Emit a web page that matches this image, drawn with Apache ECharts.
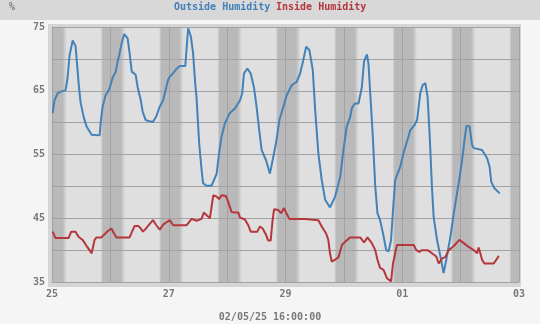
<!DOCTYPE html>
<html><head><meta charset="utf-8">
<script src="https://cdn.jsdelivr.net/npm/echarts@6/dist/echarts.min.js"></script>
<style>html,body{margin:0;padding:0;background:#f5f5f5;}#c{width:540px;height:324px;}</style>
</head><body><div id="c"></div>
<script>
// ---- data (hours since 25 Apr 00:00) ----
const dayLabels = ['25','26','27','28','29','30','01','02','03'];
const yTicks = [35, 45, 55, 65, 75];
const outsideHours = [0.3,1.0,2.3,3.9,5.6,6.4,7.2,8.5,9.7,10.9,
11.7,13.0,14.2,16.3,19.6,20.0,20.8,22.0,22.9,23.7,
24.9,26.2,27.0,27.8,28.6,29.7,30.3,31.1,31.9,32.8,
34.4,35.2,36.5,37.3,38.5,40.2,41.5,42.9,44.3,45.7,
47.7,48.4,49.7,50.9,52.5,54.8,55.3,55.6,56.0,57.1,
58.0,58.9,59.4,60.5,61.5,62.1,63.5,65.6,67.7,68.7,
69.7,71.1,73.1,75.2,77.3,78.2,78.9,80.3,81.7,83.0,
84.1,85.2,86.2,88.0,89.6,90.7,92.1,93.5,95.1,96.5,
98.6,100.6,102.0,103.3,104.5,105.8,107.2,108.2,109.5,110.9,
112.3,114.3,116.4,118.5,119.8,121.2,122.6,123.3,124.5,126.0,
127.4,128.3,129.5,130.1,131.1,131.9,132.9,133.8,134.9,136.1,
137.4,138.4,139.4,140.2,141.1,142.1,143.2,144.5,145.9,147.3,
149.0,150.1,151.4,152.4,153.5,154.4,155.3,156.2,156.9,158.3,
159.7,161.0,162.1,163.8,165.4,167.2,168.6,169.6,170.4,171.7,
172.7,173.4,176.8,178.9,179.9,180.6,181.9,184.1];
const outsideHum = [61.5,63.5,64.6,64.9,65.1,67.0,70.5,72.9,72.0,66.4,
63.3,60.9,59.4,58.1,58.0,59.9,62.5,64.3,64.8,65.4,
67.0,68.0,69.6,70.9,72.4,73.9,73.9,73.2,70.9,68.0,
67.5,65.6,63.5,61.7,60.4,60.2,60.1,61.0,62.5,63.5,
66.7,67.2,67.7,68.3,68.9,68.9,68.7,73.0,74.8,73.5,
70.9,66.0,64.1,56.8,52.6,50.5,50.1,50.1,52.0,55.2,
57.8,59.9,61.5,62.2,63.5,64.6,67.7,68.5,67.7,65.6,
62.5,58.8,55.7,54.1,52.0,54.1,56.8,60.4,62.5,64.3,
65.9,66.4,67.7,69.8,71.9,71.4,68.3,62.0,55.2,51.0,
47.9,46.7,48.4,51.5,55.7,59.4,60.9,62.3,63.0,63.0,
65.6,69.6,70.7,69.3,63.0,57.8,50.0,45.8,44.7,42.6,
40.0,39.8,41.6,46.3,51.0,52.0,53.1,55.2,57.0,58.8,
59.6,60.4,64.6,65.9,66.2,64.1,57.8,50.0,45.2,41.6,
39.0,36.4,38.5,42.1,46.3,50.5,54.1,57.3,59.5,59.4,
56.5,56.0,55.7,54.4,53.1,50.7,49.7,48.9];
const insideHours = [0.3,1.4,6.8,7.9,9.7,10.9,12.6,14.5,16.3,17.5,
18.3,20.3,21.6,23.0,24.4,25.5,26.5,31.9,32.9,34.0,
35.4,36.3,37.4,38.4,39.5,41.5,42.9,44.3,45.7,46.8,
48.4,49.8,55.3,57.4,59.4,61.5,62.4,63.5,64.9,66.3,
67.7,68.7,69.7,71.5,72.4,73.8,74.8,76.6,77.3,79.3,
80.7,81.7,84.4,85.5,86.6,88.0,88.9,89.9,90.7,91.3,
93.0,94.2,95.4,96.2,97.6,102.0,102.7,104.0,109.5,110.9,
112.7,113.6,114.3,115.0,116.4,117.8,119.2,120.5,122.6,126.7,
128.3,129.7,131.5,132.9,133.8,134.9,136.3,137.7,139.4,140.2,
141.8,148.7,149.8,151.0,152.1,154.4,156.2,158.0,159.0,160.4,
161.7,163.1,165.1,167.5,169.3,171.3,173.4,174.8,175.4,176.1,
176.8,177.8,181.6,182.7,183.7];
const insideHum = [42.9,41.9,41.9,42.9,42.9,42.1,41.6,40.5,39.5,41.6,
42.0,42.0,42.5,43.0,43.4,42.6,42.0,42.0,42.9,43.8,
43.8,43.5,42.9,43.3,43.8,44.7,43.9,43.2,44.0,44.3,
44.7,43.9,43.9,44.9,44.6,44.9,45.9,45.5,45.0,48.6,
48.4,48.0,48.6,48.5,47.6,46.0,45.9,45.9,45.1,44.8,
43.9,42.9,42.9,43.7,43.4,42.4,41.5,41.5,44.7,46.4,
46.3,45.8,46.6,45.9,44.9,44.9,44.6,44.9,44.7,43.7,
42.6,41.6,39.5,38.2,38.5,38.9,40.8,41.3,42.0,42.0,
41.2,42.0,41.1,40.0,38.5,37.2,36.9,35.6,35.1,37.9,
40.8,40.8,40.0,39.7,40.0,40.0,39.5,39.0,37.9,38.7,
38.9,40.0,40.6,41.6,41.1,40.5,40.0,39.5,40.4,39.5,
38.5,37.9,37.9,38.5,39.1];
// night shading (clock hours): fade-in start, dark start, dark end, fade-out end
const nightClock = [20.0, 20.9, 4.3, 6.1];
const endLabel = '02/05/25 16:00:00';

// ---- styles ----
const FONT = '"DejaVu Sans Mono", monospace';
const BLUE = '#4282b8', RED = '#b5363c';
const LIGHT = '#dfdfdf', DARK = '#b9b9b9', GRID = '#a2a2a2', TXT = '#787878';
const XMAX = (dayLabels.length - 1) * 24;

function nightAreas() {
  const areas = [];
  for (let d = 0; d < dayLabels.length; d++) {
    const mid = d * 24;
    const a = mid - (24 - nightClock[0]), ds = mid - (24 - nightClock[1]);
    const de = mid + nightClock[2], b = mid + nightClock[3];
    const A = Math.max(a, 0), B = Math.min(b, XMAX);
    if (B <= A) continue;
    const p1 = (ds - A) / (B - A), p2 = (de - A) / (B - A);
    const stops = [];
    if (p1 > 0) stops.push({offset: 0, color: LIGHT});
    stops.push({offset: Math.max(0, Math.min(1, p1)), color: DARK});
    stops.push({offset: Math.max(0, Math.min(1, p2)), color: DARK});
    if (p2 < 1) stops.push({offset: 1, color: LIGHT});
    areas.push([{xAxis: A, itemStyle: {color: new echarts.graphic.LinearGradient(0, 0, 1, 0, stops)}}, {xAxis: B}]);
  }
  return areas;
}

const chart = echarts.init(document.getElementById('c'));
const lbl = {fontFamily: FONT, fontWeight: 'bold', fontSize: 10, color: TXT};
chart.setOption({
  animation: false,
  backgroundColor: '#f5f5f5',
  grid: {left: 52, right: 21, top: 27, bottom: 42, show: false},
  graphic: [
    {type: 'rect', z: -10, shape: {x: 0, y: 0, width: 540, height: 20}, style: {fill: '#d8d8d8'}},
    {type: 'rect', z: -10, shape: {x: 48, y: 24, width: 473, height: 263}, style: {fill: '#d5d5d5'}},
    {type: 'rect', z: -9, shape: {x: 52, y: 27, width: 467, height: 255}, style: {fill: LIGHT}},
    {type: 'text', z: 10, x: 174, y: 7, style: {text: 'Outside Humidity', fill: BLUE, font: 'bold 10px ' + FONT, textAlign: 'left', textVerticalAlign: 'middle'}},
    {type: 'text', z: 10, x: 276, y: 7, style: {text: 'Inside Humidity', fill: RED, font: 'bold 10px ' + FONT, textAlign: 'left', textVerticalAlign: 'middle'}},
    {type: 'text', z: 10, x: 12, y: 7, style: {text: '%', fill: TXT, font: 'bold 10px ' + FONT, textAlign: 'center', textVerticalAlign: 'middle'}},
    {type: 'text', z: 10, x: 270, y: 317, style: {text: endLabel, fill: TXT, font: 'bold 10px ' + FONT, textAlign: 'center', textVerticalAlign: 'middle'}}
  ],
  xAxis: {
    type: 'value', min: 0, max: XMAX, interval: 24, z: 3,
    axisLine: {show: true, lineStyle: {color: GRID, width: 1}},
    axisTick: {show: false},
    splitLine: {show: true, lineStyle: {color: GRID, width: 1}},
    axisLabel: Object.assign({margin: 7, formatter: v => { const i = Math.round(v / 24); return i % 2 === 0 ? dayLabels[i] : ''; }}, lbl)
  },
  yAxis: {
    type: 'value', min: 35, max: 75, interval: 5, z: 3,
    axisLine: {show: true, lineStyle: {color: GRID, width: 1}},
    axisTick: {show: false},
    splitLine: {show: true, lineStyle: {color: GRID, width: 1}},
    axisLabel: Object.assign({margin: 7, formatter: v => yTicks.indexOf(v) >= 0 ? String(v) : ''}, lbl)
  },
  series: [
    {type: 'line', z: 1, silent: true, symbol: 'none', data: [[0, 35]], lineStyle: {opacity: 0},
     markArea: {silent: true, label: {show: false}, data: nightAreas()}},
    {type: 'line', name: 'Outside Humidity', z: 5, symbol: 'none',
     data: outsideHours.map((h, i) => [h, outsideHum[i]]),
     lineStyle: {color: BLUE, width: 2}, itemStyle: {color: BLUE}},
    {type: 'line', name: 'Inside Humidity', z: 5, symbol: 'none',
     data: insideHours.map((h, i) => [h, insideHum[i]]),
     lineStyle: {color: RED, width: 2}, itemStyle: {color: RED}}
  ]
});
</script></body></html>
